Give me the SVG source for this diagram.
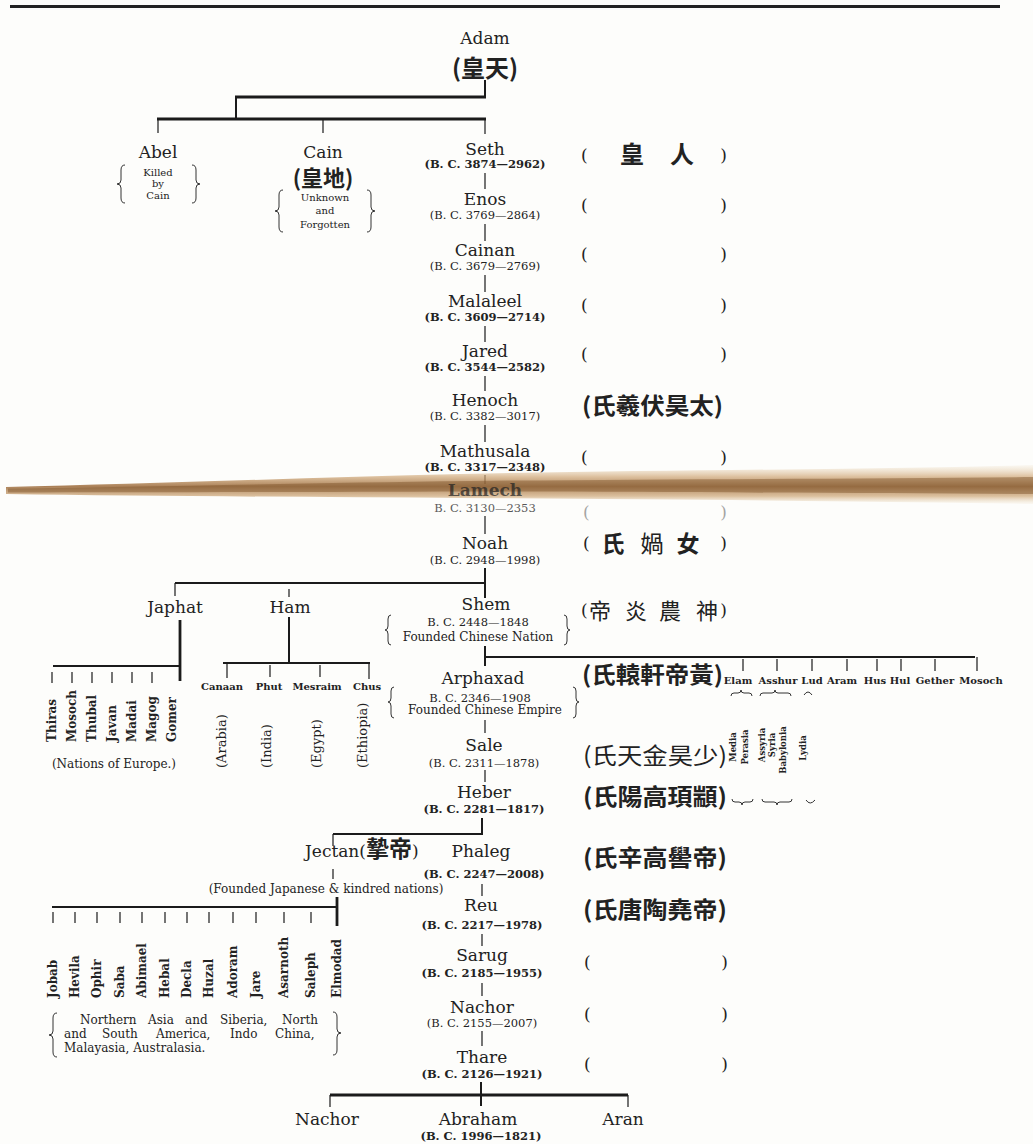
<svg xmlns="http://www.w3.org/2000/svg" width="1033" height="1144" viewBox="0 0 1033 1144">
<defs>
<style>
text{font-family:"DejaVu Serif","Liberation Serif",serif;fill:#222}
.nm{font-size:17px;text-anchor:middle}
.dt{font-size:11.5px;text-anchor:middle}
.b{font-weight:bold}
.sm{font-size:10px;text-anchor:middle}
.cjk{font-family:"Noto Sans CJK TC","Noto Sans CJK SC",sans-serif;font-weight:700}
.cjr{font-family:"Noto Sans CJK TC","Noto Sans CJK SC",sans-serif;font-weight:400}
.pr{font-size:17px}
.rt{font-size:12px;font-weight:bold}
.rr{font-size:13px}
.rs{font-size:8.5px;font-weight:bold;text-anchor:middle}
.hs{font-size:10px;font-weight:bold;text-anchor:middle}
.ln{stroke:#1b1b1b;fill:none;stroke-width:2}
.tk{stroke:#1b1b1b;fill:none;stroke-width:1.2}
.th{stroke:#1b1b1b;fill:none;stroke-width:2.8}
.br{stroke:#333;fill:none;stroke-width:1}
</style>
<linearGradient id="stain" x1="0" y1="0" x2="0" y2="1">
<stop offset="0" stop-color="#ead7b8" stop-opacity="0.15"/>
<stop offset="0.3" stop-color="#cfa676" stop-opacity="0.7"/>
<stop offset="0.55" stop-color="#9c6a3a" stop-opacity="0.85"/>
<stop offset="0.8" stop-color="#c99f6c" stop-opacity="0.65"/>
<stop offset="1" stop-color="#ecdcc0" stop-opacity="0.15"/>
</linearGradient>
</defs>
<rect width="1033" height="1144" fill="#fdfdfb"/>
<line x1="10" y1="6.5" x2="1000" y2="6.5" stroke="#222" stroke-width="3"/>

<g id="connectors">
<path class="ln" d="M485 80 V97"/>
<path class="th" d="M235 97 H486"/>
<path class="ln" d="M236 97 V118"/>
<path class="th" d="M157 119 H486"/>
<path class="tk" d="M158 119 V133 M323 119 V133 M485 119 V134"/>
<path class="tk" d="M485 173 V189 M485 224 V241 M485 275 V292 M485 326 V342 M485 376 V391 M485 425 V442 M485 475 V484 M485 516 V534"/>
<path class="ln" d="M485 568 V598"/>
<path class="ln" d="M175 583 H486"/>
<path class="tk" d="M175 583 V596 M289 589 V597"/>
<path class="th" d="M180 620 V681"/>
<path class="ln" d="M53 666 H180"/>
<path class="tk" d="M52 672 V683 M72 672 V683 M92 672 V683 M112 672 V683 M132 672 V683 M152 672 V683"/>
<path class="ln" d="M289 617 V663"/>
<path class="ln" d="M223 663 H370"/>
<path class="tk" d="M227 663 V678 M270 665 V677 M320 665 V677 M369 663 V679"/>
<path class="ln" d="M485 646 V666"/>
<path class="ln" d="M485 657 H975"/>
<path class="tk" d="M743 659 V671 M777 659 V671 M812 659 V671 M847 659 V671 M877 659 V671 M901 659 V671 M935 659 V671 M977 657 V671"/>
<path class="tk" d="M485 720 V733 M485 770 V782"/>
<path class="ln" d="M482 818 V835"/>
<path class="ln" d="M333 834 H483"/>
<path class="tk" d="M333 834 V846 M333 869 V879"/>
<path class="th" d="M337 897 V926"/>
<path class="ln" d="M52 907 H338"/>
<path class="tk" d="M53 912 V923 M75 912 V923 M97 912 V923 M120 912 V923 M142 912 V923 M165 912 V923 M187 912 V923 M209 912 V923 M233 912 V923 M256 912 V923 M284 912 V923 M311 912 V923"/>
<path class="tk" d="M482 884 V896 M482 934 V946 M482 983 V996 M482 1031 V1046"/>
<path class="ln" d="M481 1082 V1106"/>
<path class="th" d="M330 1095 H628"/>
<path class="tk" d="M330 1095 V1107 M628 1095 V1107"/>
</g>

<g id="adam"><text class="nm" x="485" y="44">Adam</text><text class="cjk" x="485" y="77" font-size="24" text-anchor="middle">(皇天)</text></g>

<g id="abel"><text class="nm" x="158" y="158">Abel</text>
<text class="sm" x="158" y="176">Killed</text><text class="sm" x="158" y="187">by</text><text class="sm" x="158" y="199">Cain</text>
<path class="br" d="M125 165 Q121 165 121 170 L121 180 Q121 184 117 184 Q121 184 121 188 L121 198 Q121 203 125 203"/>
<path class="br" d="M192 165 Q196 165 196 170 L196 180 Q196 184 200 184 Q196 184 196 188 L196 198 Q196 203 192 203"/></g>

<g id="cain"><text class="nm" x="323" y="158">Cain</text><text class="cjk" x="323" y="186" font-size="22" text-anchor="middle">(皇地)</text>
<text class="sm" x="325" y="201" font-size="10.5">Unknown</text><text class="sm" x="325" y="214" font-size="10.5">and</text><text class="sm" x="325" y="228" font-size="10.5">Forgotten</text>
<path class="br" d="M283 190 Q279 190 279 195 L279 207 Q279 211 275 211 Q279 211 279 215 L279 227 Q279 232 283 232"/>
<path class="br" d="M367 190 Q371 190 371 195 L371 207 Q371 211 375 211 Q371 211 371 215 L371 227 Q371 232 367 232"/></g>

<g id="seth"><text class="nm" x="485" y="155">Seth</text><text class="dt b" x="485" y="168">(B. C. 3874—2962)</text>
<text class="pr" x="581" y="161">(</text><text class="cjk" x="632" y="163" font-size="24" text-anchor="middle">皇</text><text class="cjk" x="682" y="163" font-size="24" text-anchor="middle">人</text><text class="pr" x="727" y="161" text-anchor="end">)</text></g>

<g id="enos"><text class="nm" x="485" y="205">Enos</text><text class="dt" x="485" y="219">(B. C. 3769—2864)</text>
<text class="pr" x="581" y="211">(</text><text class="pr" x="727" y="211" text-anchor="end">)</text></g>

<g id="cainan"><text class="nm" x="485" y="256">Cainan</text><text class="dt" x="485" y="270">(B. C. 3679—2769)</text>
<text class="pr" x="581" y="260">(</text><text class="pr" x="727" y="260" text-anchor="end">)</text></g>

<g id="malaleel"><text class="nm" x="485" y="307">Malaleel</text><text class="dt b" x="485" y="321">(B. C. 3609—2714)</text>
<text class="pr" x="581" y="311">(</text><text class="pr" x="727" y="311" text-anchor="end">)</text></g>

<g id="jared"><text class="nm" x="485" y="357">Jared</text><text class="dt b" x="485" y="371">(B. C. 3544—2582)</text>
<text class="pr" x="581" y="360">(</text><text class="pr" x="727" y="360" text-anchor="end">)</text></g>

<g id="henoch"><text class="nm" x="485" y="406">Henoch</text><text class="dt" x="485" y="420">(B. C. 3382—3017)</text>
<text class="cjk" x="582" y="414" font-size="23" textLength="141" lengthAdjust="spacingAndGlyphs">(氏羲伏昊太)</text></g>

<g id="mathusala"><text class="nm" x="485" y="457">Mathusala</text><text class="dt b" x="485" y="471">(B. C. 3317—2348)</text>
<text class="pr" x="581" y="463">(</text><text class="pr" x="727" y="463" text-anchor="end">)</text></g>

<g id="stainband">
<path d="M6 487 C140 484 300 478 460 474 C640 470 840 470 1033 465 L1033 504 C840 501 640 499 460 498 C300 497 140 496 6 494 Z" fill="url(#stain)"/>
<path d="M8 488.5 C150 487 300 483 470 481 C650 479 850 479 1033 477 L1033 494 C850 493 650 492 470 491.5 C300 492 150 492.5 8 492.5 Z" fill="#7d5128" opacity="0.45"/>
</g>

<g id="lamech"><text class="nm b" x="485" y="496" fill="#3a2a1a" opacity="0.7">Lamech</text><text class="dt" x="485" y="512" fill="#c4ad62" opacity="0.75">B. C. 3130—2353</text>
<text class="pr" x="583" y="518" fill="#c9b46a" opacity="0.4">(</text><text class="pr" x="727" y="518" text-anchor="end" fill="#c9b46a" opacity="0.4">)</text></g>

<g id="noah"><text class="nm" x="485" y="549">Noah</text><text class="dt" x="485" y="564">(B. C. 2948—1998)</text>
<text class="pr" x="583" y="549">(</text><text class="cjk" x="613" y="552" font-size="23" text-anchor="middle">氏</text><text class="cjr" x="652" y="552" font-size="23" text-anchor="middle">媧</text><text class="cjk" x="688" y="552" font-size="23" text-anchor="middle">女</text><text class="pr" x="727" y="549" text-anchor="end">)</text></g>

<g id="japhat"><text class="nm" x="175" y="613">Japhat</text>
<text class="rt" transform="translate(56,742) rotate(-90)">Thiras</text>
<text class="rt" transform="translate(76,742) rotate(-90)">Mosoch</text>
<text class="rt" transform="translate(96,742) rotate(-90)">Thubal</text>
<text class="rt" transform="translate(116,742) rotate(-90)">Javan</text>
<text class="rt" transform="translate(136,742) rotate(-90)">Madai</text>
<text class="rt" transform="translate(156,742) rotate(-90)">Magog</text>
<text class="rt" transform="translate(176,742) rotate(-90)">Gomer</text>
<text x="114" y="768" font-size="12" text-anchor="middle">(Nations of Europe.)</text></g>

<g id="ham"><text class="nm" x="290" y="613">Ham</text>
<text class="hs" x="222" y="690" font-size="11.5">Canaan</text><text class="hs" x="269" y="690" font-size="11.5">Phut</text><text class="hs" x="317" y="690" font-size="11.5">Mesraim</text><text class="hs" x="367" y="690" font-size="11.5">Chus</text>
<text class="rr" transform="translate(226,768) rotate(-90)">(Arabia)</text>
<text class="rr" transform="translate(271,768) rotate(-90)">(India)</text>
<text class="rr" transform="translate(321,768) rotate(-90)">(Egypt)</text>
<text class="rr" transform="translate(367,768) rotate(-90)">(Ethiopia)</text></g>

<g id="shem"><text class="nm" x="486" y="610">Shem</text><text class="dt" x="478" y="626">B. C. 2448—1848</text><text x="478" y="641" font-size="12" text-anchor="middle">Founded Chinese Nation</text>
<path class="br" d="M391 615 Q388 615 388 619 L388 626 Q388 630 385 630 Q388 630 388 634 L388 641 Q388 645 391 645"/>
<path class="br" d="M564 615 Q567 615 567 619 L567 626 Q567 630 570 630 Q567 630 567 634 L567 641 Q567 645 564 645"/>
<text class="pr" x="581" y="616">(</text><text class="cjr" x="600" y="619" font-size="22" text-anchor="middle">帝</text><text class="cjr" x="636" y="619" font-size="22" text-anchor="middle">炎</text><text class="cjr" x="670" y="619" font-size="22" text-anchor="middle">農</text><text class="cjr" x="707" y="619" font-size="22" text-anchor="middle">神</text><text class="pr" x="727" y="616" text-anchor="end">)</text></g>

<g id="arphaxad"><text class="nm" x="483" y="684">Arphaxad</text><text class="dt" x="480" y="702">B. C. 2346—1908</text><text x="485" y="714" font-size="12" text-anchor="middle">Founded Chinese Empire</text>
<path class="br" d="M394 687 Q391 687 391 691 L391 698 Q391 702 388 702 Q391 702 391 706 L391 714 Q391 718 394 718"/>
<path class="br" d="M573 687 Q576 687 576 691 L576 698 Q576 702 579 702 Q576 702 576 706 L576 714 Q576 718 573 718"/>
<text class="cjk" x="582" y="683" font-size="23" textLength="141" lengthAdjust="spacingAndGlyphs">(氏轅軒帝黃)</text></g>

<g id="shem-sons">
<text class="hs" x="738" y="684" font-weight="normal">Elam</text><text class="hs" x="778" y="684" font-weight="normal">Asshur</text><text class="hs" x="812" y="684" font-weight="normal">Lud</text><text class="hs" x="842" y="684">Aram</text><text class="hs" x="875" y="684">Hus</text><text class="hs" x="900" y="684">Hul</text><text class="hs" x="935" y="684">Gether</text><text class="hs" x="981" y="684" font-weight="normal">Mosoch</text>
<path class="br" d="M731 696 Q731 693 734 693 L738 693 Q741 693 741 690 Q741 693 744 693 L749 693 Q752 693 752 696"/>
<path class="br" d="M760 696 Q760 693 763 693 L772 693 Q775 693 775 690 Q775 693 778 693 L788 693 Q791 693 791 696"/>
<path class="br" d="M804 695 Q808 689 812 695"/>
<text class="rs" transform="translate(736,747) rotate(-90)">Media</text>
<text class="rs" transform="translate(748,747) rotate(-90)">Perasia</text>
<text class="rs" transform="translate(765,745) rotate(-90)">Assyria</text>
<text class="rs" transform="translate(775,745) rotate(-90)">Syria</text>
<text class="rs" transform="translate(786,750) rotate(-90)">Babylonia</text>
<text class="rs" transform="translate(806,748) rotate(-90)">Lydia</text>
<path class="br" d="M732 799 Q732 802 735 802 L739 802 Q742 802 742 805 Q742 802 745 802 L750 802 Q753 802 753 799"/>
<path class="br" d="M762 799 Q762 802 765 802 L774 802 Q777 802 777 805 Q777 802 780 802 L789 802 Q792 802 792 799"/>
<path class="br" d="M806 800 Q810 806 815 800"/>
</g>

<g id="sale"><text class="nm" x="484" y="751">Sale</text><text class="dt" x="484" y="767">(B. C. 2311—1878)</text>
<text class="cjr" x="583" y="764" font-size="23" textLength="144" lengthAdjust="spacingAndGlyphs">(氏天金昊少)</text></g>

<g id="heber"><text class="nm" x="484" y="798">Heber</text><text class="dt b" x="484" y="813">(B. C. 2281—1817)</text>
<text class="cjk" x="583" y="805" font-size="23" textLength="144" lengthAdjust="spacingAndGlyphs">(氏陽高頊顓)</text></g>

<g id="jectan"><text x="305" y="857" font-size="17">Jectan(<tspan class="cjk" font-size="23">摯帝</tspan>)</text>
<text x="326" y="893" font-size="12" text-anchor="middle">(Founded Japanese &amp; kindred nations)</text>
<text class="rt" transform="translate(57,998) rotate(-90)">Jobab</text>
<text class="rt" transform="translate(79,998) rotate(-90)">Hevila</text>
<text class="rt" transform="translate(101,998) rotate(-90)">Ophir</text>
<text class="rt" transform="translate(124,998) rotate(-90)">Saba</text>
<text class="rt" transform="translate(146,998) rotate(-90)">Abimael</text>
<text class="rt" transform="translate(169,998) rotate(-90)">Hebal</text>
<text class="rt" transform="translate(191,998) rotate(-90)">Decla</text>
<text class="rt" transform="translate(213,998) rotate(-90)">Huzal</text>
<text class="rt" transform="translate(237,998) rotate(-90)">Adoram</text>
<text class="rt" transform="translate(260,998) rotate(-90)">Jare</text>
<text class="rt" transform="translate(288,998) rotate(-90)">Asarnoth</text>
<text class="rt" transform="translate(315,998) rotate(-90)">Saleph</text>
<text class="rt" transform="translate(341,998) rotate(-90)">Elmodad</text>
<text y="1024" font-size="12"><tspan x="80">Northern</tspan><tspan x="148">Asia</tspan><tspan x="185">and</tspan><tspan x="220">Siberia,</tspan><tspan x="282">North</tspan></text>
<text y="1038" font-size="12"><tspan x="64">and</tspan><tspan x="102">South</tspan><tspan x="156">America,</tspan><tspan x="230">Indo</tspan><tspan x="275">China,</tspan></text>
<text x="64" y="1052" font-size="12">Malayasia, Australasia.</text>
<path class="br" d="M57 1013 Q53 1013 53 1018 L53 1031 Q53 1035 49 1035 Q53 1035 53 1039 L53 1052 Q53 1057 57 1057"/>
<path class="br" d="M333 1012 Q337 1012 337 1017 L337 1029 Q337 1033 341 1033 Q337 1033 337 1037 L337 1050 Q337 1055 333 1055"/></g>

<g id="phaleg"><text class="nm" x="481" y="857">Phaleg</text><text class="dt b" x="484" y="878">(B. C. 2247—2008)</text>
<text class="cjk" x="583" y="866" font-size="23" textLength="144" lengthAdjust="spacingAndGlyphs">(氏辛高嚳帝)</text></g>

<g id="reu"><text class="nm" x="481" y="911">Reu</text><text class="dt b" x="482" y="929">(B. C. 2217—1978)</text>
<text class="cjk" x="583" y="918" font-size="23" textLength="144" lengthAdjust="spacingAndGlyphs">(氏唐陶堯帝)</text></g>

<g id="sarug"><text class="nm" x="482" y="961">Sarug</text><text class="dt b" x="482" y="977">(B. C. 2185—1955)</text>
<text class="pr" x="584" y="968">(</text><text class="pr" x="728" y="968" text-anchor="end">)</text></g>

<g id="nachor"><text class="nm" x="482" y="1013">Nachor</text><text class="dt" x="482" y="1027">(B. C. 2155—2007)</text>
<text class="pr" x="584" y="1020">(</text><text class="pr" x="728" y="1020" text-anchor="end">)</text></g>

<g id="thare"><text class="nm" x="482" y="1063">Thare</text><text class="dt b" x="482" y="1078">(B. C. 2126—1921)</text>
<text class="pr" x="584" y="1070">(</text><text class="pr" x="728" y="1070" text-anchor="end">)</text></g>

<g id="nachor2"><text class="nm" x="327" y="1125">Nachor</text></g>
<g id="abraham"><text class="nm" x="478" y="1125">Abraham</text><text class="dt b" x="481" y="1140">(B. C. 1996—1821)</text></g>
<g id="aran"><text class="nm" x="623" y="1125">Aran</text></g>
</svg>
